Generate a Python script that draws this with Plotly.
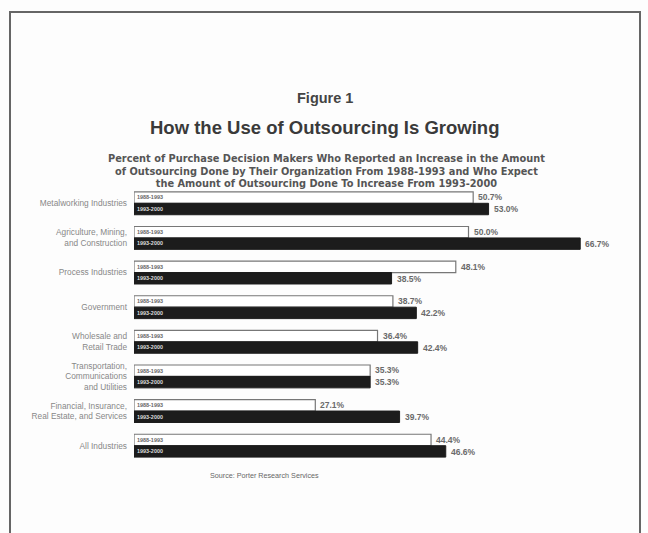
import plotly.graph_objects as go

categories = [
    "Metalworking Industries",
    "Agriculture, Mining,<br>and Construction",
    "Process Industries",
    "Government",
    "Wholesale and<br>Retail Trade",
    "Transportation,<br>Communications<br>and Utilities",
    "Financial, Insurance,<br>Real Estate, and Services",
    "All Industries",
]
series_names = ["1988-1993", "1993-2000"]
values_1988_1993 = [50.7, 50.0, 48.1, 38.7, 36.4, 35.3, 27.1, 44.4]
values_1993_2000 = [53.0, 66.7, 38.5, 42.2, 42.4, 35.3, 39.7, 46.6]

W, H = 648, 533
ML, MR, MT, MB = 134, 46, 186, 70
PW = W - ML - MR
PH = H - MT - MB
FONT = "Liberation Sans, Arial"

def px_to_paper_x(px):
    return (px - ML) / PW

def px_to_paper_y(py):
    return (H - MB - py) / PH

fig = go.Figure()
fig.add_trace(go.Bar(
    y=categories, x=values_1988_1993, orientation="h", name=series_names[0],
    marker=dict(color="#ffffff", line=dict(color="#777777", width=1.2)),
    text=[f"<b>{series_names[0]}</b>"] * len(categories), textposition="inside",
    insidetextanchor="start", textangle=0,
    textfont=dict(family=FONT, size=6, color="#666666"),
))
fig.add_trace(go.Bar(
    y=categories, x=values_1993_2000, orientation="h", name=series_names[1],
    marker=dict(color="#1c1c1c", line=dict(color="#1c1c1c", width=1)),
    text=[f"<b>{series_names[1]}</b>"] * len(categories), textposition="inside",
    insidetextanchor="start", textangle=0,
    textfont=dict(family=FONT, size=6, color="#dddddd"),
))

annotations = []
for cat, v1, v2 in zip(categories, values_1988_1993, values_1993_2000):
    annotations.append(dict(x=v1, y=cat, xref="x", yref="y", text=f"<b>{v1:.1f}%</b>",
                            showarrow=False, xanchor="left", xshift=3, yshift=6,
                            font=dict(family=FONT, size=8.5, color="#6a6a6a")))
    annotations.append(dict(x=v2, y=cat, xref="x", yref="y", text=f"<b>{v2:.1f}%</b>",
                            showarrow=False, xanchor="left", xshift=3, yshift=-6,
                            font=dict(family=FONT, size=8.5, color="#6a6a6a")))

def text_ann(txt, px, py, size, color="#444444", bold=True, family=FONT):
    t = f"<b>{txt}</b>" if bold else txt
    return dict(x=px_to_paper_x(px), y=px_to_paper_y(py), xref="paper", yref="paper",
                text=t, showarrow=False, xanchor="center", yanchor="middle",
                font=dict(family=family, size=size, color=color))

annotations.append(text_ann("Figure 1", 325, 98, 14.5, "#444444"))
annotations.append(text_ann("How the Use of Outsourcing Is Growing", 324, 128, 18.5, "#3a3a3a"))
annotations.append(dict(
    x=px_to_paper_x(326), y=px_to_paper_y(171), xref="paper", yref="paper",
    text="<b>Percent of Purchase Decision Makers Who Reported an Increase in the Amount<br>"
         "of Outsourcing Done by Their Organization From 1988-1993 and Who Expect<br>"
         "the Amount of Outsourcing Done To Increase From 1993-2000</b>",
    showarrow=False, xanchor="center", yanchor="middle", align="center",
    font=dict(family="DejaVu Sans", size=9.8, color="#555555")))
annotations.append(text_ann("Source: Porter Research Services", 264, 475, 7.2, "#666666", bold=False))

fig.update_layout(
    width=W, height=H,
    margin=dict(l=ML, r=MR, t=MT, b=MB),
    paper_bgcolor="#fdfdfd", plot_bgcolor="rgba(0,0,0,0)",
    barmode="group", bargap=0.34, bargroupgap=0.0,
    showlegend=False,
    xaxis=dict(range=[0, PW / 6.69], visible=False, fixedrange=True),
    yaxis=dict(autorange="reversed", showgrid=False, zeroline=False, showline=False,
               ticks="", ticklabelstandoff=6,
               tickfont=dict(family=FONT, size=8.3, color="#888888")),
    annotations=annotations,
    shapes=[dict(type="rect", xref="paper", yref="paper",
                 x0=px_to_paper_x(10), x1=px_to_paper_x(640),
                 y0=px_to_paper_y(545), y1=px_to_paper_y(12),
                 line=dict(color="#666666", width=2), fillcolor="rgba(0,0,0,0)", layer="below")],
    uniformtext=dict(minsize=5, mode="show"),
)

fig.write_html("out.html")
